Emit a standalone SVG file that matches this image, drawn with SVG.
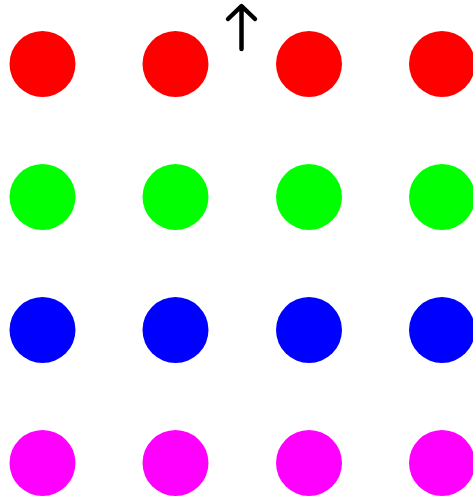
<svg xmlns="http://www.w3.org/2000/svg" width="473" height="500" viewBox="0 0 473 500">
<style>
.r{fill:#ff0000}.g{fill:#00ff00}.b{fill:#0000ff}.m{fill:#ff00ff}
.arr{fill:none;stroke:#000;stroke-width:4.5;stroke-linecap:round;stroke-linejoin:round}
</style>
<rect width="473" height="500" fill="#fff"/>
<g id="row1">
<circle class="r" cx="42.5" cy="64" r="33"/>
<circle class="r" cx="175.5" cy="64" r="33"/>
<circle class="r" cx="309" cy="64" r="33"/>
<circle class="r" cx="442" cy="64" r="33"/>
</g>
<g id="row2">
<circle class="g" cx="42.5" cy="197" r="33"/>
<circle class="g" cx="175.5" cy="197" r="33"/>
<circle class="g" cx="309" cy="197" r="33"/>
<circle class="g" cx="442" cy="197" r="33"/>
</g>
<g id="row3">
<circle class="b" cx="42.5" cy="330" r="33"/>
<circle class="b" cx="175.5" cy="330" r="33"/>
<circle class="b" cx="309" cy="330" r="33"/>
<circle class="b" cx="442" cy="330" r="33"/>
</g>
<g id="row4">
<circle class="m" cx="42.5" cy="463" r="33"/>
<circle class="m" cx="175.5" cy="463" r="33"/>
<circle class="m" cx="309" cy="463" r="33"/>
<circle class="m" cx="442" cy="463" r="33"/>
</g>
<g id="connectors">
<path class="arr" d="M241.5 49 V7 M228 19 L241.5 6 L255 19"/>
</g>
</svg>
